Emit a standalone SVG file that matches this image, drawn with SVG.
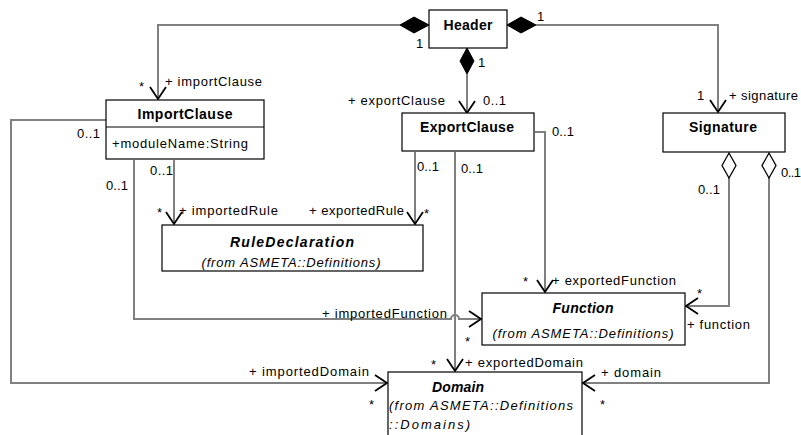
<svg xmlns="http://www.w3.org/2000/svg" width="801" height="435" viewBox="0 0 801 435">
  <defs>
    <style>
      .box { fill: #ffffff; stroke: #000000; stroke-width: 1.2; }
      .conn { fill: none; stroke: #808080; stroke-width: 2; }
      .arrow { fill: none; stroke: #000000; stroke-width: 1.8; }
      .dfill { fill: #000000; stroke: #000000; stroke-width: 1; }
      .dhollow { fill: #ffffff; stroke: #000000; stroke-width: 1.3; }
      .title { font-family: "Liberation Sans", Arial, sans-serif; font-size: 14px; font-weight: bold; fill: #000; }
      .ititle { font-family: "Liberation Sans", Arial, sans-serif; font-size: 14px; font-weight: bold; font-style: italic; fill: #000; }
      .sub { font-family: "Liberation Sans", Arial, sans-serif; font-size: 13px; font-style: italic; fill: #000; }
      .attr { font-family: "Liberation Sans", Arial, sans-serif; font-size: 13px; fill: #000; }
      .lbl { font-family: "Liberation Sans", Arial, sans-serif; font-size: 13px; fill: #000; }
    </style>
  </defs>

  <!-- connectors -->
  <g id="connectors">
    <!-- Header -> ImportClause -->
    <polyline class="conn" points="400,25 158,25 158,99"/>
    <path class="arrow" d="M150,87 L158,99 L166,87"/>
    <!-- Header -> Signature -->
    <polyline class="conn" points="536,25 718,25 718,112"/>
    <path class="arrow" d="M710,100 L718,112 L726,100"/>
    <!-- Header -> ExportClause -->
    <line class="conn" x1="467" y1="74" x2="467" y2="113"/>
    <path class="arrow" d="M459,101 L467,113 L475,101"/>
    <!-- composite diamonds on Header -->
    <polygon class="dfill" points="400,25 414,17 429,25 414,33"/>
    <polygon class="dfill" points="507,25 521,17 536,25 521,33"/>
    <polygon class="dfill" points="467,48 474,61 467,74 460,61"/>

    <!-- ImportClause -> Domain (importedDomain) -->
    <polyline class="conn" points="106,120 11,120 11,383 387,383"/>
    <path class="arrow" d="M375,375 L387,383 L375,391"/>
    <!-- ImportClause -> Function (importedFunction), hops over ExportClause->Domain -->
    <path class="conn" d="M134,160 L134,319 L451,319 A4,4 0 0 1 459,319 L481,319"/>
    <path class="arrow" d="M469,311 L481,319 L469,327"/>
    <!-- ImportClause -> RuleDeclaration (importedRule) -->
    <line class="conn" x1="174" y1="160" x2="174" y2="224"/>
    <path class="arrow" d="M166,212 L174,224 L182,212"/>

    <!-- ExportClause -> RuleDeclaration (exportedRule) -->
    <line class="conn" x1="415" y1="152" x2="415" y2="224"/>
    <path class="arrow" d="M407,212 L415,224 L423,212"/>
    <!-- ExportClause -> Domain (exportedDomain) -->
    <line class="conn" x1="455" y1="152" x2="455" y2="371"/>
    <path class="arrow" d="M447,359 L455,371 L463,359"/>
    <!-- ExportClause -> Function (exportedFunction) -->
    <polyline class="conn" points="535,132 545,132 545,292"/>
    <path class="arrow" d="M537,280 L545,292 L553,280"/>

    <!-- Signature -> Function (function) -->
    <polyline class="conn" points="729,178 729,306 686,306"/>
    <path class="arrow" d="M698,298 L686,306 L698,314"/>
    <polygon class="dhollow" points="729,153 736,165.5 729,178 722,165.5"/>
    <!-- Signature -> Domain (domain) -->
    <polyline class="conn" points="769,178 769,383 583,383"/>
    <path class="arrow" d="M595,375 L583,383 L595,391"/>
    <polygon class="dhollow" points="769,153 776,165.5 769,178 762,165.5"/>
  </g>

  <!-- connector labels -->
  <g id="labels">
    <text class="lbl" x="416" y="48">1</text>
    <text class="lbl" x="537" y="21">1</text>
    <text class="lbl" x="478" y="67">1</text>
    <text class="lbl" x="139" y="91">*</text>
    <text class="lbl" x="165" y="86" textLength="97" lengthAdjust="spacing">+ importClause</text>
    <text class="lbl" x="348" y="105" textLength="97" lengthAdjust="spacing">+ exportClause</text>
    <text class="lbl" x="483" y="105" textLength="23" lengthAdjust="spacing">0..1</text>
    <text class="lbl" x="697" y="100">1</text>
    <text class="lbl" x="729" y="100" textLength="69" lengthAdjust="spacing">+ signature</text>
    <text class="lbl" x="552" y="136" textLength="22" lengthAdjust="spacing">0..1</text>
    <text class="lbl" x="77" y="138" textLength="23" lengthAdjust="spacing">0..1</text>
    <text class="lbl" x="150" y="175" textLength="23" lengthAdjust="spacing">0..1</text>
    <text class="lbl" x="106" y="190" textLength="22" lengthAdjust="spacing">0..1</text>
    <text class="lbl" x="157" y="217">*</text>
    <text class="lbl" x="179" y="215" textLength="99" lengthAdjust="spacing">+ importedRule</text>
    <text class="lbl" x="309" y="215" textLength="95" lengthAdjust="spacing">+ exportedRule</text>
    <text class="lbl" x="424" y="218">*</text>
    <text class="lbl" x="417" y="171" textLength="22" lengthAdjust="spacing">0..1</text>
    <text class="lbl" x="461" y="173" textLength="22" lengthAdjust="spacing">0..1</text>
    <text class="lbl" x="698" y="194" textLength="22" lengthAdjust="spacing">0..1</text>
    <text class="lbl" x="781" y="177" textLength="20" lengthAdjust="spacing">0..1</text>
    <text class="lbl" x="523" y="286">*</text>
    <text class="lbl" x="552" y="285" textLength="124" lengthAdjust="spacing">+ exportedFunction</text>
    <text class="lbl" x="697" y="298">*</text>
    <text class="lbl" x="687" y="329" textLength="63" lengthAdjust="spacing">+ function</text>
    <text class="lbl" x="322" y="318" textLength="125" lengthAdjust="spacing">+ importedFunction</text>
    <text class="lbl" x="465" y="346">*</text>
    <text class="lbl" x="431" y="369">*</text>
    <text class="lbl" x="465" y="367" textLength="118" lengthAdjust="spacing">+ exportedDomain</text>
    <text class="lbl" x="601" y="377" textLength="60" lengthAdjust="spacing">+ domain</text>
    <text class="lbl" x="600" y="409">*</text>
    <text class="lbl" x="249" y="376" textLength="120" lengthAdjust="spacing">+ importedDomain</text>
    <text class="lbl" x="369" y="409">*</text>
  </g>

  <!-- classes -->
  <g id="Header">
    <rect class="box" x="429" y="10" width="78" height="38"/>
    <text class="title" x="468" y="30" text-anchor="middle" textLength="49" lengthAdjust="spacing">Header</text>
  </g>

  <g id="ImportClause">
    <rect class="box" x="106" y="100" width="158" height="59"/>
    <line class="box" x1="106" y1="127" x2="264" y2="127"/>
    <text class="title" x="185" y="119" text-anchor="middle" textLength="95" lengthAdjust="spacing">ImportClause</text>
    <text class="attr" x="112" y="148" textLength="136" lengthAdjust="spacing">+moduleName:String</text>
  </g>

  <g id="ExportClause">
    <rect class="box" x="402" y="113" width="132" height="38"/>
    <text class="title" x="467" y="132" text-anchor="middle" textLength="94" lengthAdjust="spacing">ExportClause</text>
  </g>

  <g id="Signature">
    <rect class="box" x="663" y="113" width="122" height="39"/>
    <text class="title" x="723" y="132" text-anchor="middle" textLength="68" lengthAdjust="spacing">Signature</text>
  </g>

  <g id="RuleDeclaration">
    <rect class="box" x="162" y="225" width="261" height="46"/>
    <text class="ititle" x="292" y="247" text-anchor="middle" textLength="124" lengthAdjust="spacing">RuleDeclaration</text>
    <text class="sub" x="291" y="267" text-anchor="middle" textLength="179" lengthAdjust="spacing">(from ASMETA::Definitions)</text>
  </g>

  <g id="Function">
    <rect class="box" x="482" y="293" width="203" height="52"/>
    <text class="ititle" x="583" y="313" text-anchor="middle" textLength="61" lengthAdjust="spacing">Function</text>
    <text class="sub" x="583" y="338" text-anchor="middle" textLength="181" lengthAdjust="spacing">(from ASMETA::Definitions)</text>
  </g>

  <g id="Domain">
    <rect class="box" x="388" y="372" width="194" height="80"/>
    <text class="ititle" x="458" y="392" text-anchor="middle" textLength="52" lengthAdjust="spacing">Domain</text>
    <text class="sub" x="389" y="410" textLength="184" lengthAdjust="spacing">(from ASMETA::Definitions</text>
    <text class="sub" x="389" y="429" textLength="81" lengthAdjust="spacing">::Domains)</text>
  </g>
</svg>
